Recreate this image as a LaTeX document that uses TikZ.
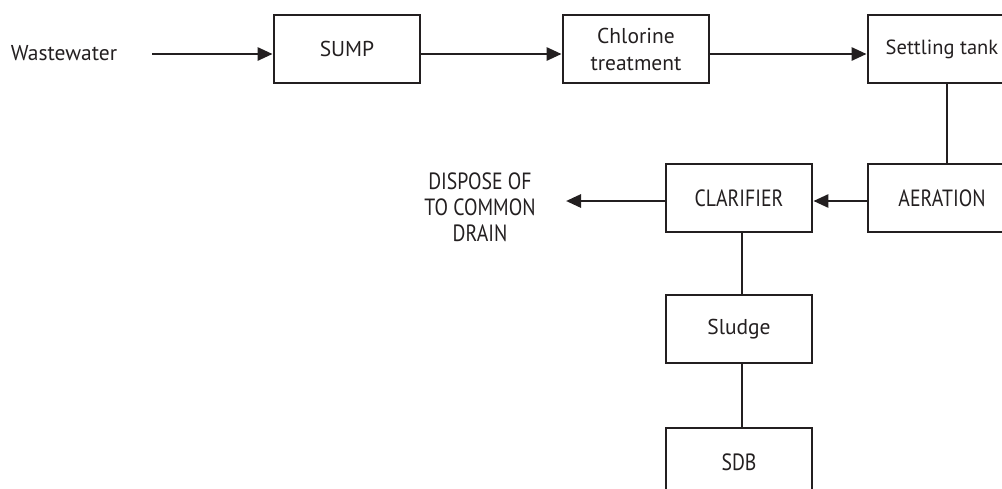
\documentclass[tikz,border=0pt]{standalone}
\usepackage{fontspec}
\setmainfont{PT Sans}
\newfontfamily\capsfont{PT Sans}[FakeStretch=0.84]
\usetikzlibrary{arrows.meta}
\definecolor{ink}{HTML}{231F20}
\tikzset{
  unitbox/.style={draw=ink, line width=2.8pt, minimum width=146pt, minimum height=68pt,
    inner sep=0pt, align=center, text=ink, font=\fontsize{21.5}{27}\selectfont},
  capsbox/.style={unitbox, font=\capsfont\fontsize{23.5}{26}\selectfont},
  flow/.style={draw=ink, line width=2.8pt, -{Triangle[length=15pt,width=13pt]}},
  link/.style={draw=ink, line width=2.8pt},
  label/.style={text=ink, align=center, inner sep=0pt}
}
\begin{document}
\begin{tikzpicture}[x=1pt, y=-1pt]
\useasboundingbox (0,0) rectangle (1002,488);
% top row
\node[label, font=\fontsize{21.5}{27}\selectfont] (ww) at (64,53) {Wastewater};
\coordinate (wwend) at (152,54);
\node[unitbox] (sump) at (347,49) {SUMP};
\node[unitbox] (chlor) at (636,49) {Chlorine\\treatment};
\node[unitbox, minimum width=148pt, font=\fontsize{20.5}{27}\selectfont] (settle) at (942,49) {Settling tank};
% middle row
\node[capsbox, minimum width=148pt] (aer) at (942,198) {AERATION};
\node[capsbox] (clar) at (739,198) {CLARIFIER};
\node[label, font=\capsfont\fontsize{23.5}{26}\selectfont] (drain) at (480,207) {DISPOSE OF\\TO COMMON\\DRAIN};
\coordinate (drainend) at (566,201);
% sludge line
\node[unitbox] (sludge) at (739,329) {Sludge};
\node[capsbox] (sdb) at (739,462) {SDB};
% connectors
\draw[flow] (wwend) -- (sump.west |- wwend);
\draw[flow] ([yshift=-5pt]sump.east) -- ([yshift=-5pt]chlor.west);
\draw[flow] ([yshift=-5pt]chlor.east) -- ([yshift=-5pt]settle.west);
\draw[link] ([xshift=5pt]settle.south) -- ([xshift=5pt]aer.north);
\draw[flow] ([yshift=-3pt]aer.west) -- ([yshift=-3pt]clar.east);
\draw[flow] ([yshift=-3pt]clar.west) -- (drainend);
\draw[link] ([xshift=3pt]clar.south) -- ([xshift=3pt]sludge.north);
\draw[link] ([xshift=3pt]sludge.south) -- ([xshift=3pt]sdb.north);
\end{tikzpicture}
\end{document}
